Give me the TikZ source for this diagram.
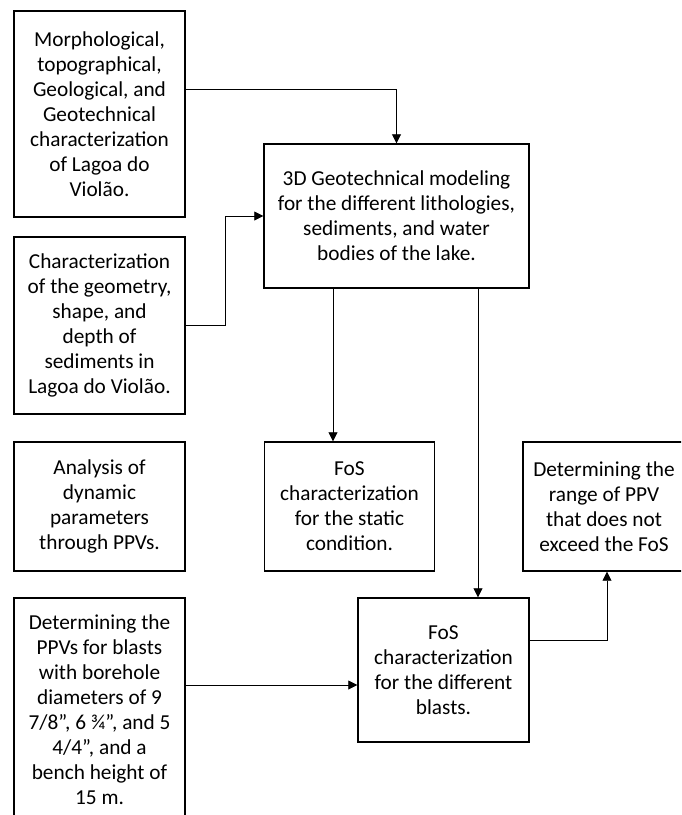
\documentclass[tikz,border=0pt]{standalone}
\usepackage{fontspec}
\setmainfont{Carlito}
\usetikzlibrary{arrows.meta}

\begin{document}
\begin{tikzpicture}[x=1pt, y=1pt, >={Triangle[length=9pt,width=9pt]},
  block/.style={rectangle, draw, line width=1.4pt, align=center, inner sep=0pt, font=\fontsize{21.3}{25}\selectfont},
  link/.style={->, line width=0.8pt}]

    \useasboundingbox (0,0) rectangle (681,-815);
    \begin{scope}
    \clip (0,0) rectangle (681,-815);

    \node[block, minimum width=171pt, minimum height=206pt] (morph) at (99.5,-114) {Morphological,\\ topographical,\\ Geological, and\\ Geotechnical\\ characterization\\ of Lagoa do\\ Violão.};
    \node[block, minimum width=171pt, minimum height=177pt] (sed) at (99.5,-325.5) {Characterization\\ of the geometry,\\ shape, and\\ depth of\\ sediments in\\ Lagoa do Violão.};
    \node[block, minimum width=171pt, minimum height=129pt] (dyn) at (99.5,-506.5) {Analysis of\\ dynamic\\ parameters\\ through PPVs.};
    \node[block, minimum width=171pt, minimum height=224pt] (ppv) at (99.5,-710) {Determining the\\ PPVs for blasts\\ with borehole\\ diameters of 9\\ 7/8”, 6 ¾”, and 5\\ 4/4”, and a\\ bench height of\\ 15 m.};
    \node[block, minimum width=265pt, minimum height=144pt] (geo) at (396.5,-216) {3D Geotechnical modeling\\ for the different lithologies,\\ sediments, and water\\ bodies of the lake.};
    \node[block, minimum width=170pt, minimum height=129pt] (stat) at (349.5,-506.5) {FoS\\ characterization\\ for the static\\ condition.};
    \node[block, minimum width=162pt, minimum height=129pt] (range) at (604,-506.5) {Determining the\\ range of PPV\\ that does not\\ exceed the FoS};
    \node[block, minimum width=171pt, minimum height=144pt] (blast) at (443.5,-670) {FoS\\ characterization\\ for the different\\ blasts.};

    \draw[link] ([yshift=25pt]morph.east) -| (geo.north);
    \draw[link] (sed.east) -- ++(40,0) |- (geo.west);
    \draw[link] ([xshift=-63.5pt]geo.south) coordinate (gs) -- (gs |- stat.north);
    \draw[link] ([xshift=81.5pt]geo.south) coordinate (gb) -- (gb |- blast.north);
    \draw[link] ([yshift=25pt]ppv.east) coordinate (pb) -- (pb -| blast.west);
    \draw[link] ([yshift=30pt]blast.east) -| ([xshift=3pt]range.south);

    \end{scope}
  \end{tikzpicture}
\end{document}
